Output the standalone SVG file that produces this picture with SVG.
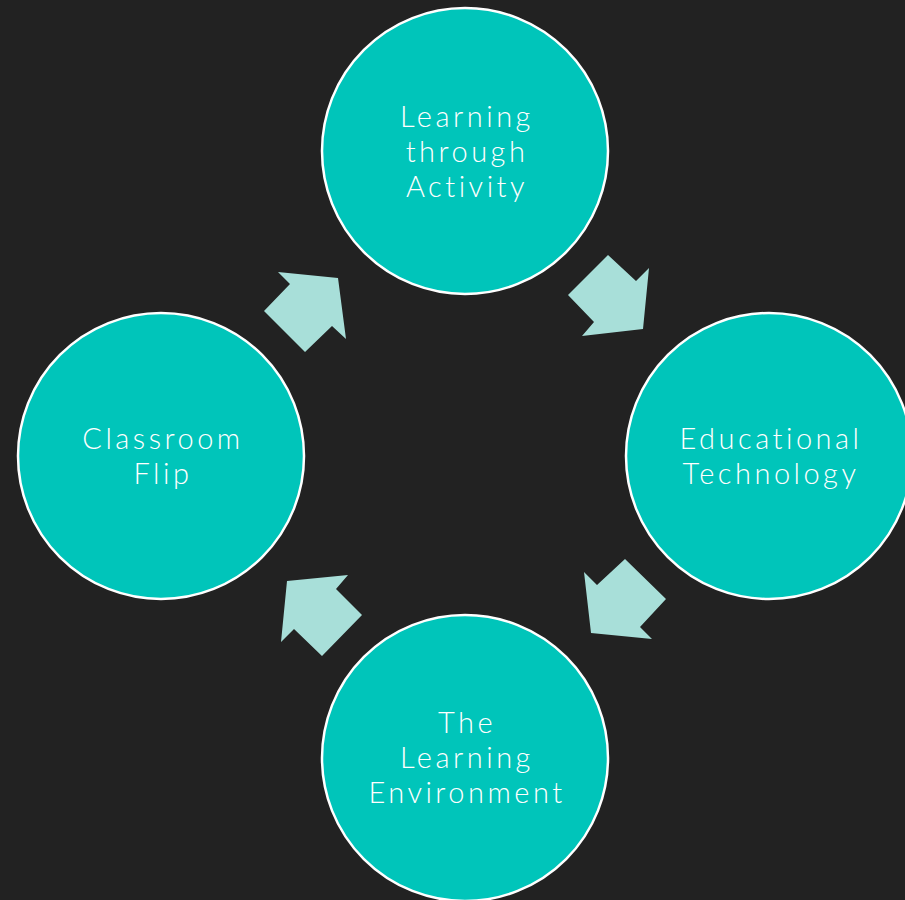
<svg xmlns="http://www.w3.org/2000/svg" width="905" height="900" viewBox="0 0 905 900">
<style>
.node circle{fill:#00C5BA;stroke:#FFFFFF;stroke-width:2.5}
.node text{fill:#FFFFFF;font-family:"Lato","Liberation Sans",sans-serif;font-weight:300;font-size:29px;letter-spacing:3.5px;text-anchor:middle}
.arrow{fill:#A8DFD9}
</style>
<rect width="905" height="900" fill="#222222"/>
<g id="connectors">
<polygon class="arrow" points="278,272 338,278 346,339 332,326 305,352 264,311 290,284"/>
<polygon class="arrow" points="608,255 636,281 649,268 643,329 582,336 594,322 568,295"/>
<polygon class="arrow" points="625,559 666,599 640,627 652,639 591,633 584,572 597,585"/>
<polygon class="arrow" points="287,581 348,575 336,589 362,615 322,656 294,629 281,642"/>
</g>
<g id="node-top" class="node">
<circle cx="465" cy="151" r="143"/>
<text x="467" y="127">Learning</text>
<text x="467" y="162">through</text>
<text x="467" y="197">Activity</text>
</g>
<g id="node-right" class="node">
<circle cx="769" cy="456" r="143"/>
<text x="771" y="449">Educational</text>
<text x="771" y="484">Technology</text>
</g>
<g id="node-bottom" class="node">
<circle cx="465" cy="758" r="143"/>
<text x="467" y="733">The</text>
<text x="467" y="768">Learning</text>
<text x="467" y="803">Environment</text>
</g>
<g id="node-left" class="node">
<circle cx="161" cy="456" r="143"/>
<text x="163" y="449">Classroom</text>
<text x="163" y="484">Flip</text>
</g>
</svg>
